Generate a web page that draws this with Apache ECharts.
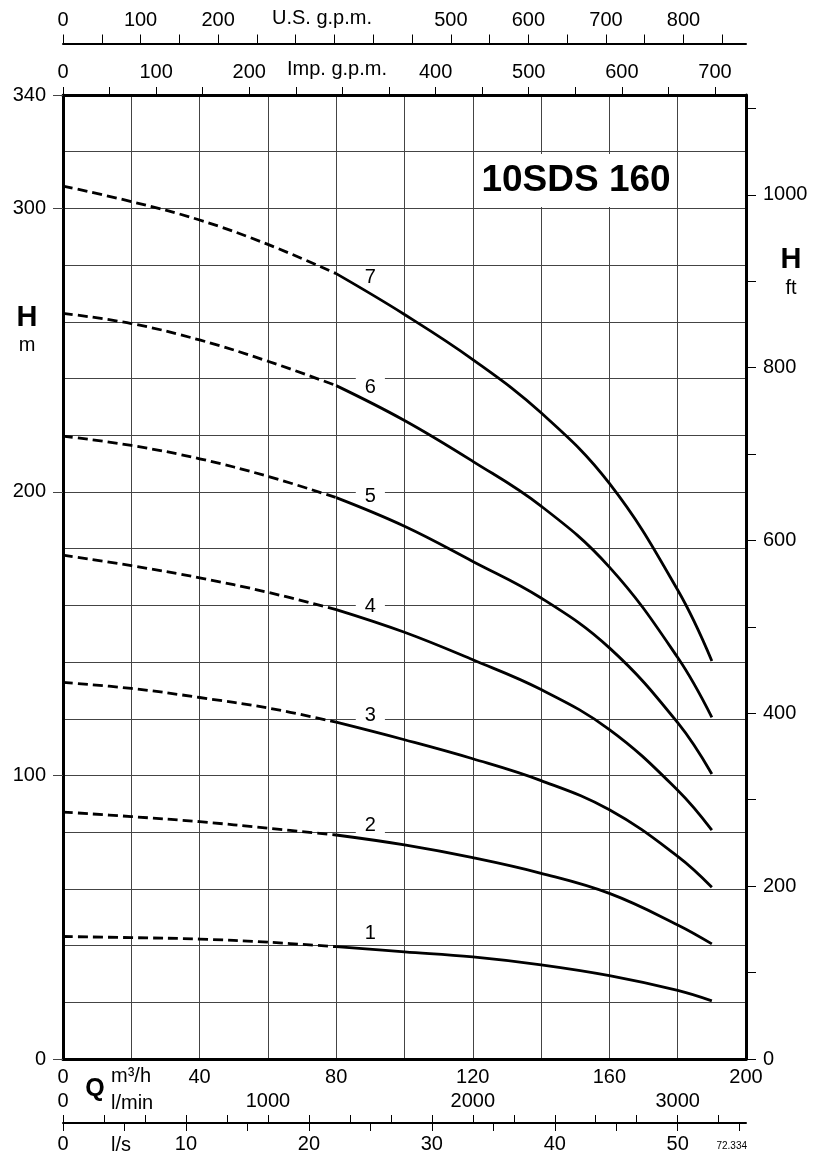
<!DOCTYPE html>
<html><head><meta charset="utf-8">
<script src="https://cdn.jsdelivr.net/npm/echarts@6/dist/echarts.min.js"></script>
<style>html,body{margin:0;padding:0;background:#fff}#c{width:813px;height:1158px}</style>
</head><body><div id="c"></div>
<script>
// ---- data (flow in m3/h, head in m) ----
const flow = [0, 20, 40, 60, 80, 100, 120, 140, 160, 180, 190];
const head7 = [307.9, 302.4, 295.9, 287.3, 277.0, 262.6, 246.7, 227.9, 203.0, 165.4, 140.4];
const head6 = [263.0, 259.4, 253.6, 246.1, 237.5, 225.2, 210.8, 195.0, 173.5, 141.6, 120.5];
const head5 = [219.7, 216.4, 211.7, 205.5, 198.0, 187.9, 175.5, 162.6, 145.0, 118.6, 100.5];
const head4 = [177.7, 174.0, 169.7, 164.6, 158.5, 150.5, 140.8, 130.3, 116.2, 94.8, 80.7];
const head3 = [132.8, 130.7, 127.5, 123.8, 118.8, 112.6, 105.9, 98.2, 87.9, 71.5, 60.6];
const head2 = [87.1, 85.5, 83.7, 81.4, 79.0, 75.5, 71.0, 65.5, 58.4, 47.3, 40.6];
const head1 = [43.2, 42.8, 42.3, 41.2, 39.6, 37.8, 36.0, 33.2, 29.4, 24.2, 20.5];
const dashedUpTo = 80;   // curves dashed below this flow
const curveNames = ['1', '2', '3', '4', '5', '6', '7'];
const curveLabelFlow = 90;
const curveLabelHeads = [44.1, 82.2, 121.0, 159.7, 198.3, 237.0, 275.8];

// ---- tick labels ----
const m3hLabels = [0, 40, 80, 120, 160, 200];
const lminTicks = [0,200,400,600,800,1000,1200,1400,1600,1800,2000,2200,2400,2600,2800,3000,3200];
const lminLabels = [0, 1000, 2000, 3000];
const lsTicks = [0,5,10,15,20,25,30,35,40,45,50,55];
const lsLabels = [0, 10, 20, 30, 40, 50];
const impTicks = [0,50,100,150,200,250,300,350,400,450,500,550,600,650,700];
const impLabels = [0, 100, 200, 400, 500, 600, 700];
const usTicks = [0,50,100,150,200,250,300,350,400,450,500,550,600,650,700,750,800,850];
const usLabels = [0, 100, 200, 500, 600, 700, 800];
const mLabels = [0, 100, 200, 300, 340];
const ftTicks = [0,100,200,300,400,500,600,700,800,900,1000,1100];
const ftLabels = [0, 200, 400, 600, 800, 1000];

// unit conversions
const Qmax = 200, Hmax = 340;
const usMax = Qmax / 0.2271247, impMax = Qmax / 0.2727654;
const lminMax = Qmax * 1000 / 60, lsMax = Qmax / 3.6, ftMax = Hmax / 0.3048;

const FONT = 'Liberation Sans, Arial, sans-serif';
const FS = 20;
const lab = (extra) => Object.assign({color: '#000', fontFamily: FONT, fontSize: FS, formatter: v => String(v)}, extra);
const heads = [head1, head2, head3, head4, head5, head6, head7];

const series = [];
heads.forEach((h, i) => {
  const pts = flow.map((q, k) => [q, h[k]]);
  series.push({type: 'line', name: 'd' + curveNames[i], data: pts.filter(p => p[0] <= dashedUpTo),
    smooth: 0.4, symbol: 'none', lineStyle: {color: '#000', width: 2.8, type: [10, 5]}, z: 5});
  series.push({type: 'line', name: 's' + curveNames[i], data: pts.filter(p => p[0] >= dashedUpTo),
    smooth: 0.4, symbol: 'none', lineStyle: {color: '#000', width: 2.8}, z: 5});
});
series.push({type: 'scatter', symbolSize: 1, itemStyle: {color: '#fff', opacity: 1}, z: 3,
  data: curveNames.map((n, i) => ({name: n, value: [curveLabelFlow, curveLabelHeads[i]]})),
  label: {show: true, position: 'inside', formatter: p => p.name, color: '#000', opacity: 1, fontFamily: FONT,
    fontSize: FS, backgroundColor: '#fff', padding: [0, 9], textBorderWidth: 0}});

const gridLine = {show: true, lineStyle: {color: '#444', width: 1}};
const option = {
  animation: false,
  backgroundColor: '#fff',
  grid: {left: 63, right: 67, top: 95, bottom: 99, containLabel: false},
  xAxis: [
    {type: 'value', position: 'bottom', min: 0, max: Qmax, interval: 20,
     axisLine: {onZero: false, lineStyle: {color: '#000', width: 3}}, axisTick: {show: false},
     axisLabel: lab({customValues: m3hLabels, margin: 8}), splitLine: gridLine},
    {type: 'value', position: 'bottom', offset: 64, min: 0, max: lminMax,
     axisLine: {onZero: false, lineStyle: {color: '#000', width: 2}},
     axisTick: {customValues: lminTicks, inside: true, length: 8, lineStyle: {color: '#000', width: 1}},
     axisLabel: lab({customValues: lminLabels, inside: true, margin: 12}), splitLine: {show: false}},
    {type: 'value', position: 'bottom', offset: 64, min: 0, max: lsMax,
     axisLine: {show: false, onZero: false},
     axisTick: {customValues: lsTicks, length: 8, lineStyle: {color: '#000', width: 1}},
     axisLabel: lab({customValues: lsLabels, margin: 11}), splitLine: {show: false}},
    {type: 'value', position: 'top', offset: 0, min: 0, max: impMax,
     axisLine: {onZero: false, lineStyle: {color: '#000', width: 3}},
     axisTick: {customValues: impTicks, length: 8, lineStyle: {color: '#000', width: 1}},
     axisLabel: lab({customValues: impLabels, margin: 13}), splitLine: {show: false}},
    {type: 'value', position: 'top', offset: 51.5, min: 0, max: usMax,
     axisLine: {onZero: false, lineStyle: {color: '#000', width: 2}},
     axisTick: {customValues: usTicks, length: 9, lineStyle: {color: '#000', width: 1}},
     axisLabel: lab({customValues: usLabels, margin: 13}), splitLine: {show: false}}
  ],
  yAxis: [
    {type: 'value', position: 'left', min: 0, max: Hmax, interval: 20,
     axisLine: {show: true, onZero: false, lineStyle: {color: '#000', width: 3}},
     axisTick: {show: false}, axisLabel: {show: false}, splitLine: gridLine},
    {type: 'value', position: 'left', min: 0, max: Hmax,
     axisLine: {show: false, onZero: false},
     axisTick: {show: true, customValues: mLabels, length: 10, lineStyle: {color: '#444', width: 1}},
     axisLabel: lab({customValues: mLabels, margin: 17}), splitLine: {show: false}},
    {type: 'value', position: 'right', min: 0, max: ftMax,
     axisLine: {show: true, onZero: false, lineStyle: {color: '#000', width: 3}},
     axisTick: {show: true, customValues: ftTicks, length: 10, lineStyle: {color: '#000', width: 1}},
     axisLabel: lab({customValues: ftLabels, margin: 17}), splitLine: {show: false}}
  ],
  graphic: [
    {type: 'rect', shape: {x: 474, y: 154, width: 201, height: 53}, style: {fill: '#fff'}, z: 100},
    {type: 'text', x: 576, y: 181, z: 101, style: {text: '10SDS 160', font: 'bold 37px ' + FONT, fill: '#000', align: 'center', verticalAlign: 'middle'}},
    {type: 'text', x: 27, y: 318, z: 101, style: {text: 'H', font: 'bold 29px ' + FONT, fill: '#000', align: 'center', verticalAlign: 'middle'}},
    {type: 'text', x: 27, y: 345, z: 101, style: {text: 'm', font: '20px ' + FONT, fill: '#000', align: 'center', verticalAlign: 'middle'}},
    {type: 'text', x: 791, y: 260, z: 101, style: {text: 'H', font: 'bold 29px ' + FONT, fill: '#000', align: 'center', verticalAlign: 'middle'}},
    {type: 'text', x: 791, y: 288, z: 101, style: {text: 'ft', font: '20px ' + FONT, fill: '#000', align: 'center', verticalAlign: 'middle'}},
    {type: 'text', x: 95, y: 1089, z: 101, style: {text: 'Q', font: 'bold 25px ' + FONT, fill: '#000', align: 'center', verticalAlign: 'middle'}},
    {type: 'text', x: 111, y: 1076, z: 101, style: {text: 'm³/h', font: '20px ' + FONT, fill: '#000', align: 'left', verticalAlign: 'middle'}},
    {type: 'text', x: 111, y: 1103, z: 101, style: {text: 'l/min', font: '20px ' + FONT, fill: '#000', align: 'left', verticalAlign: 'middle'}},
    {type: 'text', x: 111, y: 1145, z: 101, style: {text: 'l/s', font: '20px ' + FONT, fill: '#000', align: 'left', verticalAlign: 'middle'}},
    {type: 'text', x: 747, y: 1146, z: 101, style: {text: '72.334', font: '10px ' + FONT, fill: '#000', align: 'right', verticalAlign: 'middle'}},
    {type: 'text', x: 322, y: 18, z: 101, style: {text: 'U.S. g.p.m.', font: '20px ' + FONT, fill: '#000', align: 'center', verticalAlign: 'middle'}},
    {type: 'text', x: 337, y: 69, z: 101, style: {text: 'Imp. g.p.m.', font: '20px ' + FONT, fill: '#000', align: 'center', verticalAlign: 'middle'}}
  ],
  series: series
};
const chart = echarts.init(document.getElementById('c'), null, {renderer: 'canvas'});
chart.setOption(option);
</script></body></html>
